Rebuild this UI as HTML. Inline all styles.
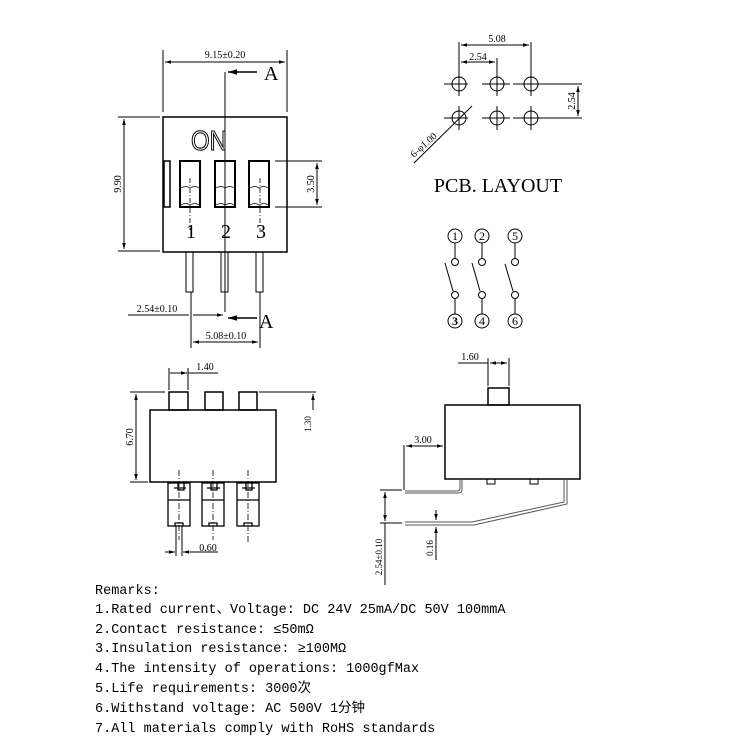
<!DOCTYPE html>
<html><head><style>body{margin:0;background:#fff}svg{display:block}</style></head><body>
<svg width="750" height="750" viewBox="0 0 750 750" xmlns="http://www.w3.org/2000/svg" font-family="Liberation Serif, serif" fill="none" stroke="#000" stroke-width="1">
<defs><marker id="a" viewBox="0 0 10 10" refX="10" refY="5" markerWidth="6" markerHeight="6" orient="auto-start-reverse"><path d="M0,2 L10,5 L0,8 z" fill="#000" stroke="none"/></marker></defs>
<!-- TOP VIEW -->
<rect x="163" y="117" width="124" height="135" stroke-width="1.5"/>
<line x1="163" y1="50" x2="163" y2="112"/><line x1="287" y1="50" x2="287" y2="112"/>
<line x1="165" y1="62" x2="285" y2="62" marker-start="url(#a)" marker-end="url(#a)"/>
<text x="225" y="58" font-size="10" fill="#000" stroke="none" text-anchor="middle">9.15±0.20</text>
<line x1="225" y1="72" x2="225" y2="312"/>
<line x1="257" y1="72" x2="228" y2="72" marker-end="url(#a)" stroke-width="1.5"/>
<text x="264" y="80" font-size="20" fill="#000" stroke="none">A</text>
<line x1="257" y1="318" x2="228" y2="318" marker-end="url(#a)" stroke-width="1.5"/>
<text x="259" y="328" font-size="20" fill="#000" stroke="none">A</text>
<text x="209" y="150" font-size="28" fill="#fff" stroke="#000" stroke-width="1.1" text-anchor="middle" font-family="Liberation Sans, sans-serif" textLength="36" lengthAdjust="spacingAndGlyphs">ON</text>
<rect x="164" y="161" width="6" height="46" stroke-width="1.5"/>
<g stroke-width="2"><rect x="180" y="161" width="20" height="46"/><rect x="215" y="161" width="20" height="46"/><rect x="249" y="161" width="20" height="46"/></g>
<path d="M181,188 q5,-3 9,0 q5,-3 9,0 M216,188 q5,-3 9,0 q5,-3 9,0 M250,188 q5,-3 9,0 q5,-3 9,0" stroke-width="0.7"/>
<path d="M181,205 q5,-3 9,0 q5,-3 9,0 M216,205 q5,-3 9,0 q5,-3 9,0 M250,205 q5,-3 9,0 q5,-3 9,0" stroke-width="0.7"/>
<g stroke-dasharray="5,2,1,2" stroke-width="0.8"><line x1="190" y1="178" x2="190" y2="230"/><line x1="260" y1="178" x2="260" y2="230"/></g>
<g font-size="20" fill="#000" stroke="none" text-anchor="middle"><text x="191" y="238">1</text><text x="226" y="238">2</text><text x="261" y="238">3</text></g>
<line x1="118" y1="117" x2="160" y2="117"/><line x1="118" y1="251" x2="160" y2="251"/>
<line x1="124" y1="119" x2="124" y2="249" marker-start="url(#a)" marker-end="url(#a)"/>
<text transform="translate(121,184) rotate(-90)" font-size="10" fill="#000" stroke="none" text-anchor="middle">9.90</text>
<line x1="275" y1="161" x2="322" y2="161"/><line x1="275" y1="207" x2="322" y2="207"/>
<line x1="317" y1="163" x2="317" y2="205" marker-start="url(#a)" marker-end="url(#a)"/>
<text transform="translate(314,184) rotate(-90)" font-size="10" fill="#000" stroke="none" text-anchor="middle">3.50</text>
<g stroke-width="1"><rect x="186" y="252" width="7" height="40"/><rect x="221" y="252" width="7" height="40"/><rect x="256" y="252" width="7" height="40"/></g>
<line x1="191" y1="292" x2="191" y2="348"/><line x1="260" y1="292" x2="260" y2="348"/>
<line x1="128" y1="315" x2="189" y2="315"/><line x1="193" y1="315" x2="223" y2="315" marker-end="url(#a)"/>
<text x="157" y="312" font-size="10" fill="#000" stroke="none" text-anchor="middle">2.54±0.10</text>
<line x1="193" y1="342" x2="258" y2="342" marker-start="url(#a)" marker-end="url(#a)"/>
<text x="226" y="339" font-size="10" fill="#000" stroke="none" text-anchor="middle">5.08±0.10</text>
<!-- PCB -->
<g><circle cx="459" cy="84" r="7"/><circle cx="497" cy="84" r="7"/><circle cx="531" cy="84" r="7"/><circle cx="459" cy="118" r="7"/><circle cx="497" cy="118" r="7"/><circle cx="531" cy="118" r="7"/>
<path d="M444,84H468M482,84H510M513,84H582M444,118H468M482,118H510M513,118H582M459,72V96M497,72V96M531,72V96M459,106V130M497,106V130M531,106V130"/>
<line x1="459" y1="42" x2="459" y2="72"/><line x1="531" y1="42" x2="531" y2="72"/><line x1="497" y1="58" x2="497" y2="72"/>
<line x1="461" y1="45" x2="529" y2="45" marker-start="url(#a)" marker-end="url(#a)"/>
<line x1="461" y1="62" x2="495" y2="62" marker-start="url(#a)" marker-end="url(#a)"/>
<line x1="578" y1="86" x2="578" y2="116" marker-start="url(#a)" marker-end="url(#a)"/>
<line x1="414" y1="163" x2="472" y2="106"/></g>
<g font-size="10" fill="#000" stroke="none"><text x="497" y="42" text-anchor="middle">5.08</text><text x="478" y="60" text-anchor="middle">2.54</text>
<text transform="translate(575,101) rotate(-90)" text-anchor="middle">2.54</text>
<text transform="translate(414,158) rotate(-42)">6-φ1.00</text></g>
<text x="498" y="192" font-size="20" fill="#000" stroke="none" text-anchor="middle">PCB. LAYOUT</text>
<!-- schematic -->
<g><circle cx="455" cy="236" r="7"/><circle cx="482" cy="236" r="7"/><circle cx="515" cy="236" r="7"/><circle cx="455" cy="321" r="7"/><circle cx="482" cy="321" r="7"/><circle cx="515" cy="321" r="7"/>
<circle cx="455" cy="262" r="3.5"/><circle cx="482" cy="262" r="3.5"/><circle cx="515" cy="262" r="3.5"/><circle cx="455" cy="295" r="3.5"/><circle cx="482" cy="295" r="3.5"/><circle cx="515" cy="295" r="3.5"/>
<path d="M455,243V258M482,243V258M515,243V258M455,299V314M482,299V314M515,299V314M445,263L453,291M472,263L480,291M505,264L513,291"/></g>
<g font-size="12" fill="#000" stroke="none" text-anchor="middle"><text x="455" y="240">1</text><text x="482" y="240">2</text><text x="515" y="240">5</text><text x="455" y="325" font-weight="bold">3</text><text x="482" y="325">4</text><text x="515" y="325">6</text></g>
<!-- FRONT VIEW -->
<rect x="150" y="410" width="126" height="72" stroke-width="1.5"/>
<rect x="169" y="392" width="19" height="18" stroke-width="1.5"/><rect x="205" y="392" width="18" height="18" stroke-width="1.5"/><rect x="239" y="392" width="18" height="18" stroke-width="1.5"/>
<line x1="169" y1="368" x2="169" y2="390"/><line x1="188" y1="368" x2="188" y2="390"/>
<line x1="170" y1="373" x2="187" y2="373" marker-end="url(#a)"/><line x1="188" y1="373" x2="218" y2="373"/>
<text x="205" y="370" font-size="10" fill="#000" stroke="none" text-anchor="middle">1.40</text>
<line x1="130" y1="392" x2="165" y2="392"/><line x1="130" y1="482" x2="148" y2="482"/>
<line x1="136" y1="394" x2="136" y2="480" marker-start="url(#a)" marker-end="url(#a)"/>
<text transform="translate(133,437) rotate(-90)" font-size="10" fill="#000" stroke="none" text-anchor="middle">6.70</text>
<line x1="259" y1="392" x2="316" y2="392"/><line x1="313" y1="394" x2="313" y2="410" marker-start="url(#a)"/>
<text transform="translate(311,424) rotate(-90)" font-size="9" fill="#000" stroke="none" text-anchor="middle">1.30</text>
<g stroke-width="1.3"><rect x="168" y="483" width="22" height="43"/><rect x="202" y="483" width="22" height="43"/><rect x="237" y="483" width="22" height="43"/>
<path d="M168,500H190M202,500H224M237,500H259M178,483V490H184V483M211,483V490H217V483M246,483V490H252V483M174,488H186M207,488H220M242,488H255M175,526V523H183V526M209,526V523H217V526M244,526V523H252V526"/></g>
<g stroke-dasharray="6,2,1,2" stroke-width="0.8"><line x1="179" y1="470" x2="179" y2="540"/><line x1="213" y1="470" x2="213" y2="540"/><line x1="248" y1="470" x2="248" y2="542"/></g>
<line x1="176" y1="526" x2="176" y2="556"/><line x1="182" y1="526" x2="182" y2="556"/>
<line x1="165" y1="552" x2="175" y2="552" marker-end="url(#a)"/><line x1="193" y1="552" x2="183" y2="552" marker-end="url(#a)"/><line x1="183" y1="552" x2="218" y2="552"/>
<text x="208" y="551" font-size="10" fill="#000" stroke="none" text-anchor="middle">0.60</text>
<!-- SIDE VIEW -->
<rect x="445" y="405" width="135" height="74" stroke-width="1.5"/>
<rect x="488" y="388" width="21" height="17" stroke-width="1.5"/>
<line x1="488" y1="358" x2="488" y2="386"/><line x1="509" y1="358" x2="509" y2="386"/>
<line x1="458" y1="363" x2="488" y2="363"/><line x1="490" y1="363" x2="507" y2="363" marker-start="url(#a)" marker-end="url(#a)"/>
<text x="470" y="360" font-size="10" fill="#000" stroke="none" text-anchor="middle">1.60</text>
<line x1="404" y1="445" x2="404" y2="490"/>
<line x1="406" y1="446" x2="443" y2="446" marker-start="url(#a)" marker-end="url(#a)"/>
<text x="423" y="443" font-size="10" fill="#000" stroke="none" text-anchor="middle">3.00</text>
<rect x="487" y="479" width="8" height="5"/><rect x="530" y="479" width="8" height="5"/>
<path d="M460,479V488Q460,491 457,491H405M462,479V490Q462,493 458,493H405" stroke="#555"/>
<path d="M564,479V502L472,522H405M567,479V504L474,525H405" stroke="#555"/>
<line x1="380" y1="490" x2="402" y2="490"/><line x1="380" y1="523" x2="402" y2="523"/>
<line x1="385" y1="492" x2="385" y2="521" marker-start="url(#a)" marker-end="url(#a)"/><line x1="385" y1="523" x2="385" y2="585"/>
<text transform="translate(382,557) rotate(-90)" font-size="9" fill="#000" stroke="none" text-anchor="middle">2.54±0.10</text>
<line x1="436" y1="510" x2="436" y2="520" marker-end="url(#a)"/><line x1="436" y1="537" x2="436" y2="527" marker-end="url(#a)"/><line x1="436" y1="527" x2="436" y2="560"/>
<text transform="translate(433,548) rotate(-90)" font-size="9" fill="#000" stroke="none" text-anchor="middle">0.16</text>
<!-- REMARKS -->
<g font-family="Liberation Mono, Noto Sans CJK SC, monospace" font-size="13.5" fill="#000" stroke="none">
<text x="95" y="594">Remarks:</text>
<text x="95" y="613">1.Rated current、Voltage: DC 24V 25mA/DC 50V 100mmA</text>
<text x="95" y="633">2.Contact resistance: ≤50mΩ</text>
<text x="95" y="652">3.Insulation resistance: ≥100MΩ</text>
<text x="95" y="672">4.The intensity of operations: 1000gfMax</text>
<text x="95" y="692">5.Life requirements: 3000次</text>
<text x="95" y="712">6.Withstand voltage: AC 500V 1分钟</text>
<text x="95" y="732">7.All materials comply with RoHS standards</text>
</g>
</svg>
</body></html>
